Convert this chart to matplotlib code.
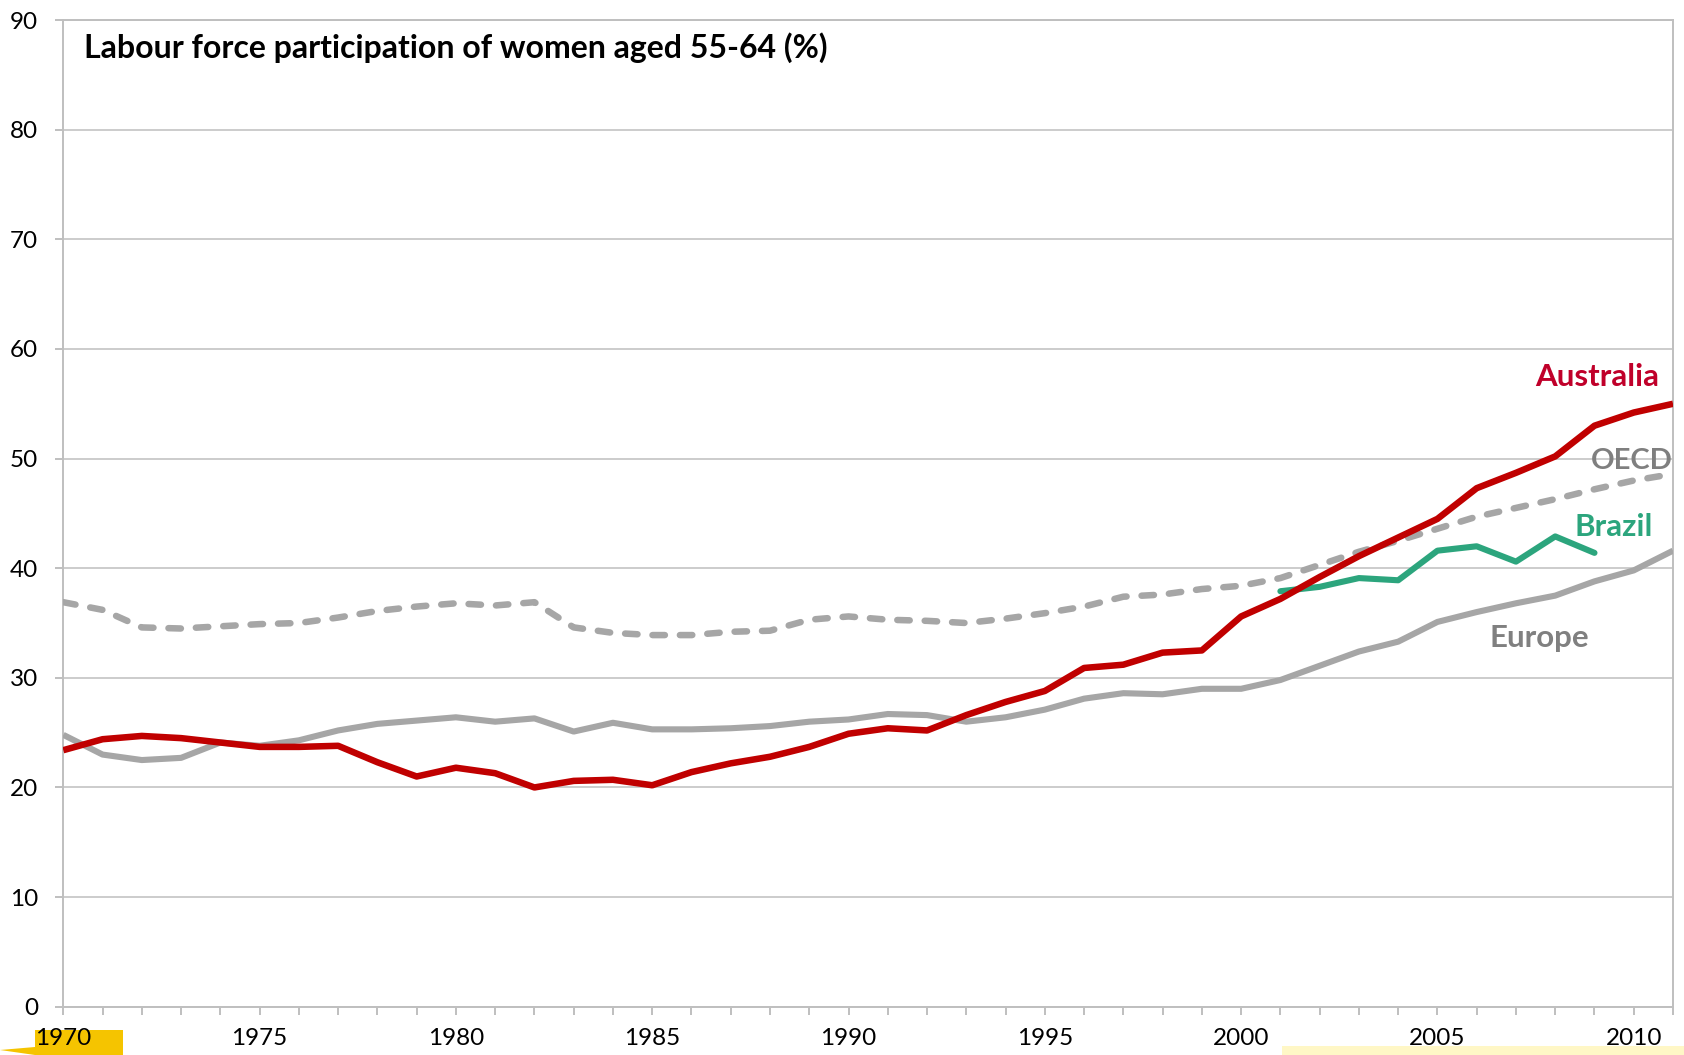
import matplotlib
matplotlib.use("Agg")
import matplotlib.pyplot as plt
import matplotlib.patches as patches
from matplotlib.ticker import MultipleLocator

plt.rcParams['font.family'] = ['Lato', 'DejaVu Sans']

# Dados (taxa de participação, mulheres 55-64, %)
anos = list(range(1970, 2012))

australia = [23.4, 24.4, 24.7, 24.5, 24.1, 23.7, 23.7, 23.8, 22.3, 21.0,
             21.8, 21.3, 20.0, 20.6, 20.7, 20.2, 21.4, 22.2, 22.8, 23.7,
             24.9, 25.4, 25.2, 26.6, 27.8, 28.8, 30.9, 31.2, 32.3, 32.5,
             35.6, 37.2, 39.2, 41.1, 42.8, 44.5, 47.3, 48.7, 50.2, 53.0,
             54.2, 55.0]

europe = [24.8, 23.0, 22.5, 22.7, 24.1, 23.8, 24.3, 25.2, 25.8, 26.1,
          26.4, 26.0, 26.3, 25.1, 25.9, 25.3, 25.3, 25.4, 25.6, 26.0,
          26.2, 26.7, 26.6, 26.0, 26.4, 27.1, 28.1, 28.6, 28.5, 29.0,
          29.0, 29.8, 31.1, 32.4, 33.3, 35.1, 36.0, 36.8, 37.5, 38.8,
          39.8, 41.6]

oecd = [36.9, 36.2, 34.6, 34.5, 34.7, 34.9, 35.0, 35.5, 36.1, 36.5,
        36.8, 36.6, 36.9, 34.6, 34.1, 33.9, 33.9, 34.2, 34.3, 35.3,
        35.6, 35.3, 35.2, 35.0, 35.4, 35.9, 36.5, 37.4, 37.6, 38.1,
        38.4, 39.1, 40.3, 41.5, 42.5, 43.6, 44.7, 45.5, 46.3, 47.2,
        48.0, 48.6]

anos_brasil = list(range(2001, 2010))
brasil = [37.9, 38.3, 39.1, 38.9, 41.6, 42.0, 40.6, 42.9, 41.4]

titulo = 'Labour force participation of women aged 55-64 (%)'

VERMELHO = '#C00000'
CINZA = '#A6A6A6'
VERDE = '#2CA57D'

fig = plt.figure(figsize=(16.84, 10.55), dpi=100)
ax = fig.add_axes([0.03759, 0.04578, 0.95588, 0.93517])

ax.plot(anos, oecd, color=CINZA, lw=4.7, linestyle=(0, (1.9, 2.3)),
        dash_capstyle='round', zorder=3)
ax.plot(anos, europe, color=CINZA, lw=4.4, solid_capstyle='butt', zorder=3)
ax.plot(anos_brasil, brasil, color=VERDE, lw=4.4, solid_capstyle='round',
        zorder=4)
ax.plot(anos, australia, color=VERMELHO, lw=4.7, solid_capstyle='butt',
        zorder=5)

# Rótulos das séries
ax.text(2010.65, 57.4, 'Australia', color='#C0002A', fontsize=22.5,
        fontweight='bold', ha='right', va='center')
ax.text(2011.0, 49.8, 'OECD', color='#7F7F7F', fontsize=21,
        fontweight='bold', ha='right', va='center')
ax.text(2010.5, 43.8, 'Brazil', color=VERDE, fontsize=22.5,
        fontweight='bold', ha='right', va='center')
ax.text(2007.6, 33.6, 'Europe', color='#808080', fontsize=22.5,
        fontweight='bold', ha='center', va='center')

ax.text(0.0129, 0.972, titulo, transform=ax.transAxes, fontsize=23,
        fontweight='bold', ha='left', va='center')

ax.set_xlim(1970, 2011)
ax.set_ylim(0, 90)
ax.xaxis.set_major_locator(MultipleLocator(5))
ax.xaxis.set_minor_locator(MultipleLocator(1))
ax.yaxis.set_major_locator(MultipleLocator(10))

ax.grid(True, axis='y', color='#C8C8C8', lw=1.3, zorder=1)
for lado in ['left', 'bottom', 'right', 'top']:
    ax.spines[lado].set_color('#BFBFBF')
    ax.spines[lado].set_linewidth(1.4)

ax.tick_params(axis='both', which='both', length=6, width=1.4,
               color='#BFBFBF', labelsize=17.5)
ax.tick_params(axis='x', which='major', pad=9)
ax.tick_params(axis='y', which='major', pad=12)

# Detalhes amarelos no rodapé da imagem original (atrás dos rótulos)
fig.patches.append(patches.Rectangle((1282 / 1684, 0), 1 - 1282 / 1684,
                                     9 / 1055, transform=fig.transFigure,
                                     fc='#FFF7C6', ec='none', zorder=-1))
fig.patches.append(patches.Polygon([(0, 5 / 1055), (35 / 1684, 8 / 1055),
                                    (35 / 1684, 0)], closed=True,
                                   transform=fig.transFigure,
                                   fc='#F5C400', ec='none', zorder=-1))
fig.patches.append(patches.Rectangle((35 / 1684, 0), 88 / 1684, 25 / 1055,
                                     transform=fig.transFigure,
                                     fc='#F5C400', ec='none', zorder=-1))

plt.savefig('out.png', dpi=100)
plt.close()
